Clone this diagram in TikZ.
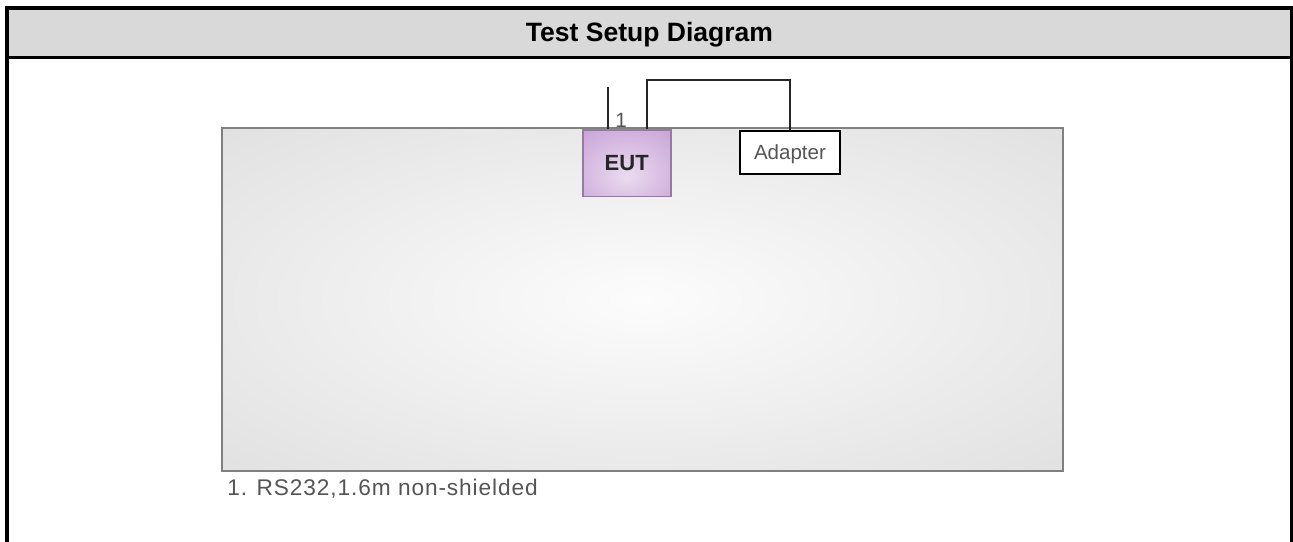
\documentclass[tikz,border=0pt]{standalone}
\usepackage{fontspec}
\setmainfont{Liberation Sans}
\definecolor{hdr}{HTML}{D9D9D9}
\definecolor{bc1}{HTML}{FCFCFC}
\definecolor{bc2}{HTML}{D6D6D6}
\definecolor{bc3}{HTML}{C8C8C8}
\definecolor{pc1}{HTML}{EADBEF}
\definecolor{pc2}{HTML}{C49BD4}
\definecolor{pc3}{HTML}{B386C5}
\definecolor{pbord}{HTML}{957AA3}
\definecolor{txtgray}{HTML}{555555}
\pgfdeclareradialshading{boardshade}{\pgfpoint{0bp}{0bp}}{color(0bp)=(bc1); color(50bp)=(bc2); color(71bp)=(bc3)}
\pgfdeclareradialshading{eutshade}{\pgfpoint{0bp}{-10bp}}{color(0bp)=(pc1); color(45bp)=(pc2); color(75bp)=(pc3)}
\tikzset{
  frameline/.style={draw=black, line width=3pt},
  boardbox/.style={draw=black!50, line width=1.5pt, shading=boardshade, inner sep=0pt,
    minimum width=630.75pt, minimum height=257.25pt},
  eutbox/.style={draw=pbord, line width=1.2pt, shading=eutshade, inner sep=0pt,
    minimum width=66pt, minimum height=49.9pt, text=black!85,
    font=\fontsize{16.5}{20}\selectfont\bfseries},
  adbox/.style={draw=black, fill=white, line width=1.4pt, inner sep=0pt, text depth=0pt,
    minimum width=75pt, minimum height=32.25pt, text=txtgray,
    font=\fontsize{15.4}{18}\selectfont},
  cable/.style={draw=black!85, line width=1.5pt},
  graytext/.style={text=txtgray, inner sep=0pt}
}
\begin{document}
\begin{tikzpicture}[x=0.75pt, y=-0.75pt]
\useasboundingbox (0,0) rectangle (1293,542);
% header
\fill[hdr] (7,8) rectangle (1291.5,57.5);
\draw[frameline] (7,542) -- (7,8) -- (1291.5,8) -- (1291.5,542);
\draw[frameline, line width=2.6pt] (7,57.5) -- (1291.5,57.5);
\node[anchor=base, inner sep=0pt, font=\fontsize{19.9}{24}\selectfont\bfseries] (title) at (649.5,41.7) {Test Setup Diagram};
% board
\node[boardbox] (board) at (642.5,299.5) {};
% EUT and adapter
\node[eutbox] (eut) at (626.7,163.3) {EUT};
\node[adbox] (adapter) at (790,152.5) {Adapter};
% cables
\coordinate (c1) at (607.7,86.7);
\draw[cable] (c1) -- (c1 |- eut.north);
\node[graytext, font=\fontsize{15.5}{18}\selectfont] (lab1) at (621,120) {1};
\coordinate (a1) at (647.3,80);
\draw[cable] (eut.north -| a1) -- (a1) -| (adapter.north);
% legend
\node[graytext, anchor=base west, font=\fontsize{17}{20}\selectfont\addfontfeatures{LetterSpace=4}] (legend) at (227,495) {1. RS232,1.6m non-shielded};
\end{tikzpicture}
\end{document}
